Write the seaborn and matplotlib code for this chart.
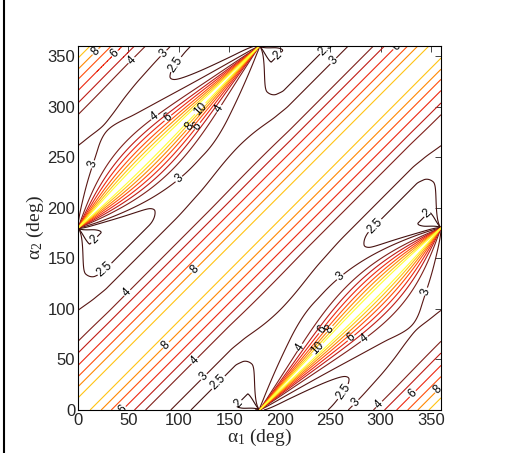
import numpy as np
import matplotlib
matplotlib.use("Agg")
import matplotlib.pyplot as plt
import seaborn as sns
from matplotlib.colors import LinearSegmentedColormap
from matplotlib.lines import Line2D

# ---- values ----
levels = [2, 2.5, 3, 4, 5, 6, 7, 8, 9, 10]
label_levels = [2, 2.5, 3, 4, 6, 8, 10]
# profile across the main diagonal ridge: |alpha2 - alpha1| (deg) -> value
diag_offset = [0, 12, 23, 33, 44, 56, 67, 92, 112, 135, 160, 180]
diag_value = [10.0, 9.0, 8.0, 7.0, 6.0, 5.0, 4.0, 3.0, 2.5, 2.15, 1.95, 1.85]
# sharp core of the lens ridge (alpha2 - alpha1 = +-180), offsets scaled by the lens width
lens_offset = [0, 3, 11, 21, 37, 60, 90, 130, 250]
lens_value = [8.5, 7.5, 5.4, 3.3, 1.1, 0.15, 0.0, 0.0, 0.0]
# broad low halo around the lens
halo_offset = [0, 20, 40, 60, 80, 110, 150, 250]
halo_value = [1.2, 1.1, 0.85, 0.55, 0.25, 0.06, 0.0, 0.0]
xticks = [0, 50, 100, 150, 200, 250, 300, 350]
yticks = [0, 50, 100, 150, 200, 250, 300, 350]


def pchip(xk, yk, x):
    xk = np.asarray(xk, float)
    yk = np.asarray(yk, float)
    h = np.diff(xk)
    dl = np.diff(yk) / h
    n = len(xk)
    m = np.zeros(n)
    for k in range(1, n - 1):
        if dl[k - 1] * dl[k] > 0:
            w1 = 2 * h[k] + h[k - 1]
            w2 = h[k] + 2 * h[k - 1]
            m[k] = (w1 + w2) / (w1 / dl[k - 1] + w2 / dl[k])
    m[0] = dl[0]
    m[-1] = 0.0 if abs(dl[-1]) < 1e-12 else dl[-1]
    x = np.clip(x, xk[0], xk[-1])
    i = np.clip(np.searchsorted(xk, x) - 1, 0, n - 2)
    t = (x - xk[i]) / h[i]
    h00 = 2 * t ** 3 - 3 * t ** 2 + 1
    h10 = t ** 3 - 2 * t ** 2 + t
    h01 = -2 * t ** 3 + 3 * t ** 2
    h11 = t ** 3 - t ** 2
    return h00 * yk[i] + h10 * h[i] * m[i] + h01 * yk[i + 1] + h11 * h[i] * m[i + 1]


sns.set_style("white")
plt.rcParams["font.family"] = ["Liberation Sans", "DejaVu Sans"]
plt.rcParams["mathtext.fontset"] = "custom"
plt.rcParams["mathtext.rm"] = "Liberation Serif"
plt.rcParams["mathtext.it"] = "Liberation Serif"

a = np.linspace(0, 360, 901)
A1, A2 = np.meshgrid(a, a)
d = A2 - A1
adw = np.abs(((d + 180.0) % 360.0) - 180.0)
c = 180.0 + 360.0 * np.round((d - 180.0) / 360.0)   # nearest lens line
e = np.abs(d - c)
side = np.where(d > c, 1.0, -1.0)                     # upper-left / lower-right side
tau = (A1 + A2 - c) / 2.0                             # position along the lens line
phiA = np.abs(((tau + 180.0) % 360.0) - 180.0)        # distance from the wide end
p = tau % 180.0
w_core = np.sin(np.radians(phiA + 22.0 * np.sin(np.radians(phiA))))
w_halo = np.abs(np.sin(np.radians(p + side * 35.0 * np.sin(np.radians(p))))) ** 0.6
Z = (pchip(diag_offset, diag_value, adw)
     + pchip(lens_offset, lens_value, e / np.maximum(w_core, 1e-9))
     + pchip(halo_offset, halo_value, e / np.maximum(w_halo, 1e-9)))

cmap = LinearSegmentedColormap.from_list(
    "hotlines",
    [(0.0, (0.20, 0.05, 0.05)), (0.25, (0.50, 0.13, 0.11)), (0.45, (0.90, 0.10, 0.08)),
     (0.62, (1.0, 0.30, 0.05)), (0.8, (1.0, 0.62, 0.0)), (1.0, (1.0, 1.0, 0.2))])

fig = plt.figure(figsize=(5.31, 4.53), dpi=100)
ax = fig.add_axes([78 / 531, 1 - 410 / 453, 363 / 531, 364 / 453])
cs = ax.contour(a, a, Z, levels=levels, cmap=cmap, vmin=2, vmax=10, linewidths=0.8)
ax.clabel(cs, levels=label_levels, fontsize=8.5, inline=True, inline_spacing=1, fmt="%g", colors="black")

ax.set_xlim(0, 360)
ax.set_ylim(0, 360)
ax.set_xticks(xticks)
ax.set_yticks(yticks)
ax.tick_params(direction="in", length=4, width=0.6, top=True, right=True, labelsize=12, pad=2)
for sp in ax.spines.values():
    sp.set_visible(True)
    sp.set_color("black")
    sp.set_linewidth(0.8)
ax.set_xlabel(r"$\alpha_1$ (deg)", fontsize=14, family="Liberation Serif", labelpad=-1)
ax.set_ylabel(r"$\alpha_2$ (deg)", fontsize=14, family="Liberation Serif", labelpad=1)

fig.add_artist(Line2D([3.5 / 531, 3.5 / 531], [0, 1], transform=fig.transFigure, color="black", lw=1.5))
fig.savefig("out.png", dpi=100)
